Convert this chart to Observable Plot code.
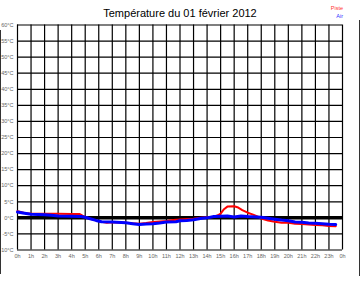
<!DOCTYPE html>
<html>
<head>
<meta charset="utf-8">
<script src="https://cdn.jsdelivr.net/npm/d3@7"></script>
<script src="https://cdn.jsdelivr.net/npm/@observablehq/plot@0.6"></script>
<style>
  html, body { margin: 0; padding: 0; background: #fff; }
  #wrap { position: relative; width: 360px; height: 288px; overflow: hidden; font-family: "Liberation Sans", Arial, sans-serif; }
  #title { position: absolute; left: 0; width: 360px; top: 7px; text-align: center; font-size: 11px; color: #000; }
  .leg { position: absolute; right: 17px; font-size: 5.5px; }
  .bord { position: absolute; width: 1px; background: #333; }
  #wrap svg { position: absolute; left: 0; top: 0; }
</style>
</head>
<body>
<div id="wrap">
  <div id="title">Température du 01 février 2012</div>
  <div class="leg" style="top:5px;color:#f33">Piste</div>
  <div class="leg" style="top:13px;color:#33f">Air</div>
  <div class="bord" style="left:0;top:30px;height:244px"></div>
  <div class="bord" style="left:359px;top:20px;height:256px"></div>
</div>
<script>
const hourTicks = d3.range(0, 25);
const tempTicks = d3.range(-10, 61, 5);

const pisteHours = [0,0.25,0.5,1,2,3,4,4.6,4.8,5,5.3,5.7,6.2,6.6,7,8,8.5,9,9.5,10,11,11.5,12,13,13.5,14,14.5,14.8,15,15.25,15.5,16,16.3,16.6,17,17.4,17.8,18,18.5,19,19.5,20,20.5,21,21.5,22,22.5,23,23.5];
const pisteTemps = [2.1,1.8,1.5,1.3,1.3,1.3,1.2,1.2,0.7,0.3,-0.2,-0.7,-1.2,-1.5,-1.4,-1.5,-1.7,-1.8,-1.6,-1.3,-1.0,-0.7,-0.5,-0.3,0.0,0.2,0.3,0.8,1.3,2.7,3.5,3.6,3.2,2.4,1.6,1.0,0.3,-0.2,-0.8,-1.2,-1.5,-1.5,-1.8,-1.9,-2.1,-2.2,-2.3,-2.5,-2.6];

const airHours = [0,0.4,1,2,2.5,3,4,4.7,5,5.3,5.8,6.2,7,8,8.5,9,9.5,10,10.5,11,11.7,12,12.5,13,13.5,14,14.5,15,15.5,16,16.5,17,18,18.5,19,19.5,20,20.5,21,21.5,22,22.5,23,23.5];
const airTemps = [1.8,1.5,1.1,1.0,0.8,0.6,0.5,0.4,0.2,-0.2,-0.8,-1.2,-1.3,-1.5,-1.8,-2.1,-1.9,-1.8,-1.6,-1.3,-1.2,-0.9,-0.8,-0.6,-0.2,0.0,0.4,0.5,0.6,0.3,0.6,0.4,0.2,-0.1,-0.4,-0.7,-0.9,-1.3,-1.4,-1.6,-1.7,-1.8,-2.0,-2.1];

const piste = pisteHours.map((h, i) => ({h, t: pisteTemps[i]}));
const air = airHours.map((h, i) => ({h, t: airTemps[i]}));

const chart = Plot.plot({
  width: 360,
  height: 288,
  marginLeft: 17,
  marginRight: 18,
  marginTop: 24.5,
  marginBottom: 38.5,
  style: {fontFamily: "'Liberation Sans', Arial, sans-serif", background: "transparent"},
  x: {domain: [0, 24]},
  y: {domain: [-10, 60]},
  marks: [
    Plot.ruleX(hourTicks, {stroke: "#000", strokeWidth: 1.2, strokeOpacity: 1}),
    Plot.ruleY(tempTicks, {stroke: "#000", strokeWidth: 1.2, strokeOpacity: 1}),
    Plot.ruleY([0], {stroke: "#000", strokeWidth: 3.5}),
    Plot.axisY(tempTicks, {tickSize: 0, tickPadding: 4, fontSize: 5.5, fill: "#666", tickFormat: d => d + "°C", label: null}),
    Plot.axisX(hourTicks, {tickSize: 0, tickPadding: 4, fontSize: 5.5, fill: "#666", tickFormat: d => (d % 24) + "h", label: null}),
    Plot.line(piste, {x: "h", y: "t", stroke: "#f00", strokeWidth: 2, curve: "linear"}),
    Plot.line(air, {x: "h", y: "t", stroke: "#00f", strokeWidth: 3, curve: "linear"})
  ]
});
document.getElementById("wrap").prepend(chart);
</script>
</body>
</html>
